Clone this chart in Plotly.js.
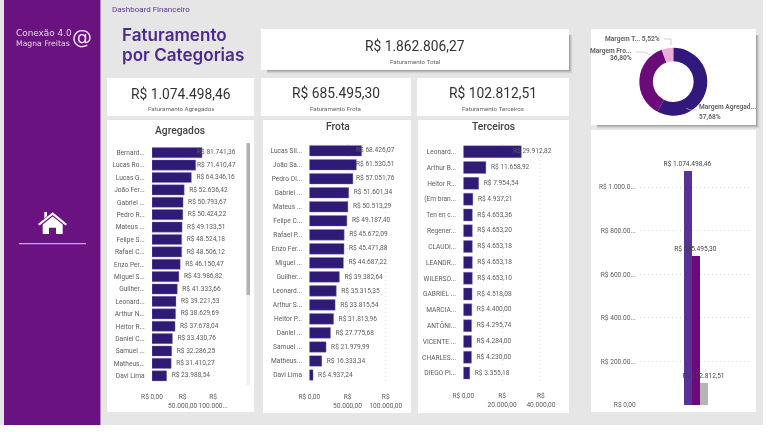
<!DOCTYPE html>
<html><head><meta charset="utf-8">
<script src="https://cdn.plot.ly/plotly-3.0.1.min.js"></script>
<style>html,body{margin:0;padding:0;background:#fff;overflow:hidden}#c{width:768px;height:432px;filter:blur(0.35px)}</style>
</head><body><div id="c"></div>
<script>
const agregadosNames = ["Bernard...","Lucas Ro...","Lucas G...","João Fer...","Gabriel ...","Pedro R...","Mateus ...","Felipe S...","Rafael C...","Enzo Per...","Miguel S...","Guilher...","Leonard...","Arthur N...","Heitor R...","Daniel C...","Samuel ...","Matheus...","Davi Lima"];
const agregadosValues = [81741.36,71410.47,64346.16,52636.42,50793.67,50424.22,49133.51,48524.18,48506.12,46150.47,43986.82,41333.66,39221.53,38629.69,37678.04,33430.76,32286.25,31410.27,23988.54];
const frotaNames = ["Lucas Sil...","João Sa...","Pedro Ol...","Gabriel ...","Mateus ...","Felipe C...","Rafael P...","Enzo Fer...","Miguel ...","Guilher...","Leonard...","Arthur S...","Heitor P...","Daniel ...","Samuel ...","Matheus...","Davi Lima"];
const frotaValues = [68426.07,61530.51,57051.76,51601.34,50513.29,49187.40,45672.09,45471.88,44687.22,39382.64,35315.35,33815.54,31813.96,27775.68,21979.99,16333.34,4937.24];
const terceirosNames = ["Leonard...","Arthur B...","Heitor R...","(Em bran...","Ten en c...","Regener...","CLAUDI...","LEANDR...","WILERSO...","GABRIEL ...","MARCIA...","ANTÔNI...","VICENTE ...","CHARLES...","DIEGO PI..."];
const terceirosValues = [29912.82,11658.92,7954.54,4937.21,4653.36,4653.20,4653.18,4653.18,4653.10,4518.08,4400.00,4295.74,4284.00,4230.00,3355.18];
const donutLabels = ["Margem Agregados","Margem Frota","Margem Terceiros"];
const donutValues = [57.68,36.80,5.52];
const totalCategories = ["Agregados","Frota","Terceiros"];
const totalValues = [1074498.46,685495.30,102812.51];
const totalTicks = [0,200000,400000,600000,800000,1000000];
const totalTickText = ["R$ 0,00","R$ 200.00...","R$ 400.00...","R$ 600.00...","R$ 800.00...","R$ 1.000.0..."];

const W=768,H=432;
const px=x=>x/W, py=y=>1-y/H;
const brl=v=>"R$ "+v.toLocaleString("pt-BR",{minimumFractionDigits:2,maximumFractionDigits:2});
const GRAY="#e6e6e6", INK="#5c5c5c", BAR="#2f1a75", TS=6.6;
const FONT="Roboto, sans-serif", HEAD="Roboto, sans-serif", LOGO="'DejaVu Sans', sans-serif", TITLE="Inter, sans-serif";

const shapes=[], annotations=[];
function rect(x0,y0,x1,y1,c){shapes.push({type:"rect",layer:"below",xref:"paper",yref:"paper",x0:px(x0),x1:px(x1),y0:py(y1),y1:py(y0),fillcolor:c,line:{width:0}});}
function path(pts,c){shapes.push({type:"path",layer:"above",xref:"paper",yref:"paper",path:"M"+pts.map(p=>px(p[0])+","+py(p[1])).join("L")+"Z",fillcolor:c,line:{width:0}});}
function line(pts,c,w){shapes.push({type:"path",layer:"above",xref:"paper",yref:"paper",path:"M"+pts.map(p=>px(p[0])+","+py(p[1])).join("L"),line:{color:c,width:w}});}
function label(x,y,text,size,color,family,anchor,weight){annotations.push({xref:"paper",yref:"paper",x:px(x),y:py(y),text:text,showarrow:false,xanchor:anchor||"center",yanchor:"middle",borderpad:0,font:{size:size,color:color,family:family,weight:weight||400}});}
function shadow(x0,y0,x1,y1){[[4,"#e0e0e0"],[3,"#d2d2d2"],[2,"#bdbdbd"],[1,"#a3a3a3"]].forEach(s=>rect(x0+6,y0+6,x1+s[0],y1+s[0],s[1]));}

// page
rect(0,0,763,425,GRAY);
rect(4,0,100,425,"#6a1280");
rect(100,0,101,425,"#b48ac4");
// shadows and panels
shadow(261,29,569,70); shadow(591,29,756,125);
[[107,78,254,116],[261,29,569,70],[261,78,411,116],[417,78,569,116],[107,120,254,412],[263,120,411,413],[418,120,569,413],[591,29,756,125],[591,130,756,412]].forEach(r=>rect(r[0],r[1],r[2],r[3],"#ffffff"));
// scrollbar
rect(246.5,143,250,385,"#f1f1f1"); rect(246.5,143,250,295,"#b0b0b0");

// sidebar
label(15,33,"Conexão 4.0",8.9,"#e6d5ea",LOGO,"left");
label(15,43.5,"Magna Freitas",7.7,"#e6d5ea",LOGO,"left");
label(82,37,"@",20,"#f0e6f2",LOGO);
path([[52.7,212.3],[67,224],[65.5,225.5],[52.7,215],[39.5,225.5],[38,224]],"#ffffff");
path([[44.3,212],[47,212],[47,216],[44.3,218.5]],"#ffffff");
path([[52.7,216.5],[62.7,224.5],[62.7,234],[56,234],[56,227.7],[49,227.7],[49,234],[42.7,234],[42.7,224.5]],"#ffffff");
line([[19,243.7],[86,243.7]],"#cfa9d8",1.2);

// heading
label(111,9.5,"Dashboard Financeiro",8,"#5b3a93",FONT,"left");
label(121,35,"Faturamento",17.1,"#4b2a8c",TITLE,"left",600);
label(121,54.5,"por Categorias",17.1,"#4b2a8c",TITLE,"left",600);

// cards
label(181,94,"R$ 1.074.498,46",13.8,"#333333",HEAD);
label(181,109,"Faturamento Agregados",6.2,"#666",FONT);
label(415,46,"R$ 1.862.806,27",13.8,"#333333",HEAD);
label(415,62,"Faturamento Total",6.2,"#666",FONT);
label(336,93,"R$ 685.495,30",13.8,"#333333",HEAD);
label(336,109,"Faturamento Frota",6.2,"#666",FONT);
label(493,93,"R$ 102.812,51",13.8,"#333333",HEAD);
label(493,109,"Faturamento Terceiros",6.2,"#666",FONT);
label(180,130,"Agregados",10.3,"#444",HEAD,"center",500);
label(338,126,"Frota",10.3,"#444",HEAD,"center",500);
label(493,126,"Terceiros",10.3,"#444",HEAD,"center",500);

// donut labels
label(604,39,"<b>Margem T... 5,52%</b>",6.6,"#666",FONT,"left");
label(633,50.5,"<b>Margem Fro...</b>",6.6,"#666",FONT,"right");
label(633,58,"<b>36,80%</b>",6.6,"#666",FONT,"right");
label(698,107.5,"<b>Margem Agregad...</b>",6.6,"#666",FONT,"left");
label(698,116.5,"<b>57,68%</b>",6.6,"#666",FONT,"left");
line([[664,39],[671,39],[671,45]],"#bbbbbb",0.7);
line([[636,52],[645,52],[650,55]],"#bbbbbb",0.7);
line([[697,110],[690,110],[686,108]],"#bbbbbb",0.7);

function hbar(names,values,xa,ya,dom,rows,pxPerThousand,ticks,tickText,capPx,barW){
  const scale=pxPerThousand/1000, pad=5/scale, cap=(capPx-dom[0])/scale;
  const traces=[
   {type:"bar",orientation:"h",y:names,x:values,xaxis:xa,yaxis:ya,width:barW,marker:{color:BAR,line:{color:"#8f80bb",width:0.4}},hoverinfo:"skip"},
   {type:"scatter",mode:"text",y:names,x:values.map(v=>Math.min(v+pad,cap)),text:values.map(brl),textposition:"middle right",textfont:{size:TS,color:INK,family:FONT},xaxis:xa,yaxis:ya,cliponaxis:false,hoverinfo:"skip"}
  ];
  const axX={domain:[px(dom[0]),px(dom[1])],range:[0,(dom[1]-dom[0])/scale],anchor:ya,tickmode:"array",tickvals:ticks,ticktext:tickText,tickangle:0,showgrid:true,gridcolor:"#dcdcdc",griddash:"1px,3px",gridwidth:0.8,zeroline:false,showline:false,tickfont:{size:TS,color:INK,family:FONT},ticklen:8,tickcolor:"rgba(0,0,0,0)",ticks:"outside",fixedrange:true};
  const axY={domain:[py(rows[1]),py(rows[0])],anchor:xa,type:"category",categoryorder:"array",categoryarray:names,autorange:false,range:[names.length-0.5,-0.5],showgrid:false,zeroline:false,showline:false,tickfont:{size:TS,color:INK,family:FONT},ticklen:5,tickcolor:"rgba(0,0,0,0)",ticks:"outside",fixedrange:true};
  return {traces,axX,axY};
}
const a=hbar(agregadosNames,agregadosValues,"x","y",[152,244],[146.5,382],0.612,[0,50000,100000],["R$ 0,00","R$<br>50.000,00","R$<br>100.000..."],197,0.82);
const b=hbar(frotaNames,frotaValues,"x2","y2",[309.3,405],[143.7,382],0.7645,[0,50000,100000],["R$ 0,00","R$<br>50.000,00","R$<br>100.000,00"],356,0.76);
const c=hbar(terceirosNames,terceirosValues,"x3","y3",[463.3,565],[143.8,381],1.94,[0,20000,40000],["R$ 0,00","R$<br>20.000,00","R$<br>40.000,00"],513,0.76);

const donut={type:"pie",labels:donutLabels,values:donutValues,hole:0.6,sort:false,direction:"clockwise",rotation:0,textinfo:"none",hoverinfo:"skip",showlegend:false,
  marker:{colors:["#32187a","#6b0a78","#eeadd8"],line:{width:0}},
  domain:{x:[px(673.3-34),px(673.3+34)],y:[py(81.7+34),py(81.7-34)]}};

const columns={type:"bar",x:totalCategories,y:totalValues,xaxis:"x4",yaxis:"y4",width:1,marker:{color:["#583295","#6b0a78","#b5b5b5"]},text:totalValues.map(brl),textposition:"outside",textangle:0,constraintext:"none",cliponaxis:false,textfont:{size:TS,color:"#444",family:FONT},hoverinfo:"skip"};

const layout={width:W,height:H,margin:{l:0,r:0,t:0,b:0,pad:0},paper_bgcolor:"#ffffff",plot_bgcolor:"rgba(0,0,0,0)",showlegend:false,bargap:0,shapes,annotations,
  xaxis:a.axX,yaxis:a.axY,xaxis2:b.axX,yaxis2:b.axY,xaxis3:c.axX,yaxis3:c.axY,
  xaxis4:{domain:[px(640),px(751)],anchor:"y4",type:"category",categoryorder:"array",categoryarray:totalCategories,range:[1-6.9375,1+6.9375],autorange:false,showticklabels:false,ticks:"",showgrid:false,zeroline:false,showline:false,fixedrange:true},
  yaxis4:{domain:[py(405),py(150)],anchor:"x4",range:[0,(405-150)/43.6*200000],tickvals:totalTicks,ticktext:totalTickText,showgrid:true,gridcolor:"#cfcfcf",griddash:"1px,3px",gridwidth:0.8,zeroline:false,showline:false,tickfont:{size:TS,color:INK,family:FONT},ticks:"outside",ticklen:2,tickcolor:"rgba(0,0,0,0)",fixedrange:true}
};
Plotly.newPlot("c",[...a.traces,...b.traces,...c.traces,donut,columns],layout,{displayModeBar:false,staticPlot:true});
</script></body></html>
